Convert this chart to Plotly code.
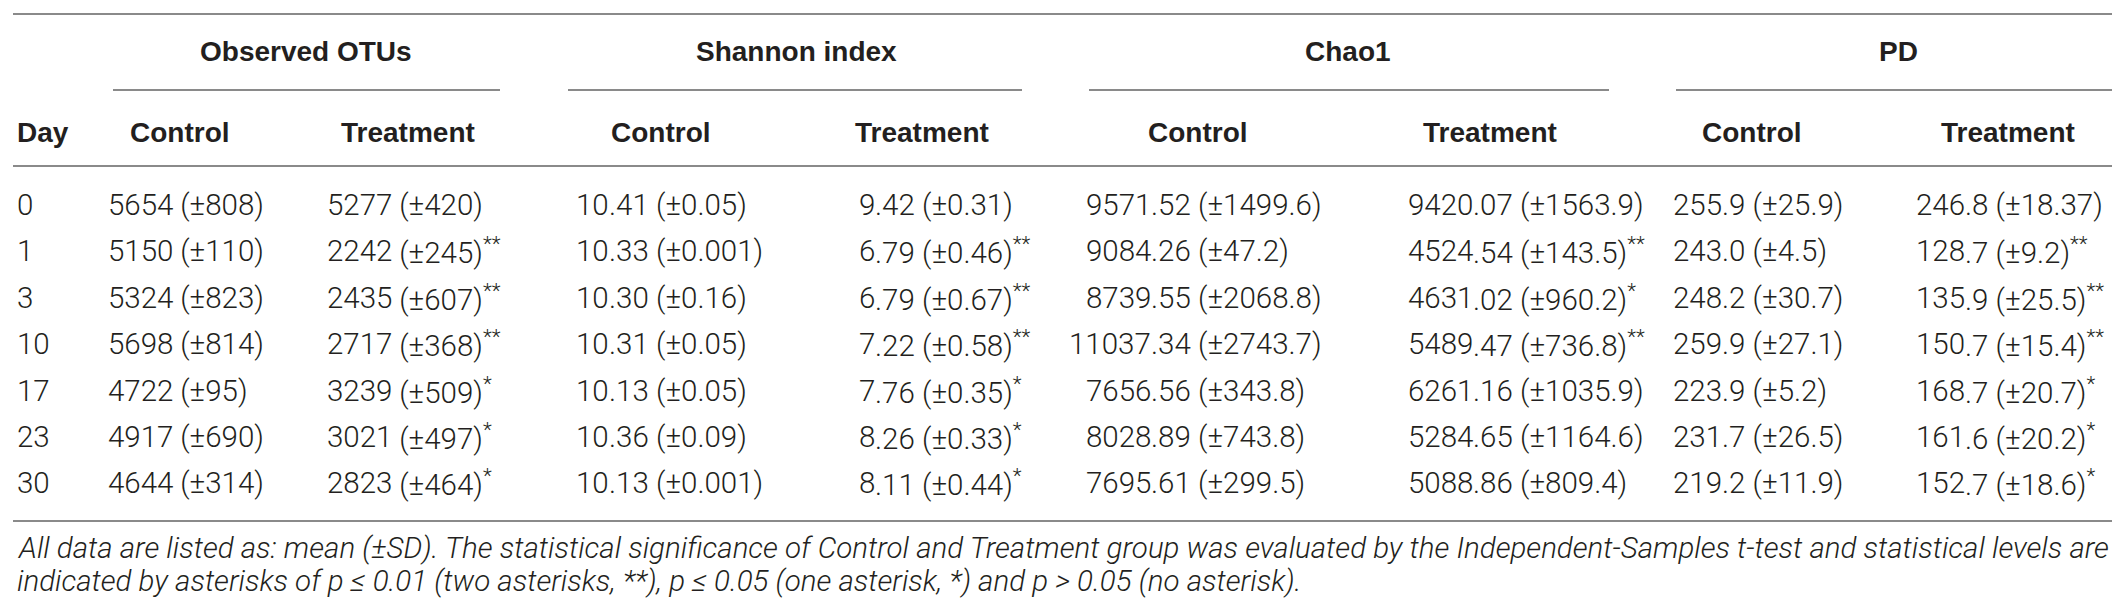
import plotly.graph_objects as go

# table values
days = ["0", "1", "3", "10", "17", "23", "30"]

otu_ctrl_mean = ["5654", "5150", "5324", "5698", "4722", "4917", "4644"]
otu_ctrl_sd = ["808", "110", "823", "814", "95", "690", "314"]
otu_ctrl_sig = ["", "", "", "", "", "", ""]
otu_trt_mean = ["5277", "2242", "2435", "2717", "3239", "3021", "2823"]
otu_trt_sd = ["420", "245", "607", "368", "509", "497", "464"]
otu_trt_sig = ["", "**", "**", "**", "*", "*", "*"]

sh_ctrl_mean = ["10.41", "10.33", "10.30", "10.31", "10.13", "10.36", "10.13"]
sh_ctrl_sd = ["0.05", "0.001", "0.16", "0.05", "0.05", "0.09", "0.001"]
sh_ctrl_sig = ["", "", "", "", "", "", ""]
sh_trt_mean = ["9.42", "6.79", "6.79", "7.22", "7.76", "8.26", "8.11"]
sh_trt_sd = ["0.31", "0.46", "0.67", "0.58", "0.35", "0.33", "0.44"]
sh_trt_sig = ["", "**", "**", "**", "*", "*", "*"]

chao_ctrl_mean = ["9571.52", "9084.26", "8739.55", "11037.34", "7656.56", "8028.89", "7695.61"]
chao_ctrl_sd = ["1499.6", "47.2", "2068.8", "2743.7", "343.8", "743.8", "299.5"]
chao_ctrl_sig = ["", "", "", "", "", "", ""]
chao_trt_mean = ["9420.07", "4524.54", "4631.02", "5489.47", "6261.16", "5284.65", "5088.86"]
chao_trt_sd = ["1563.9", "143.5", "960.2", "736.8", "1035.9", "1164.6", "809.4"]
chao_trt_sig = ["", "**", "*", "**", "", "", ""]

pd_ctrl_mean = ["255.9", "243.0", "248.2", "259.9", "223.9", "231.7", "219.2"]
pd_ctrl_sd = ["25.9", "4.5", "30.7", "27.1", "5.2", "26.5", "11.9"]
pd_ctrl_sig = ["", "", "", "", "", "", ""]
pd_trt_mean = ["246.8", "128.7", "135.9", "150.7", "168.7", "161.6", "152.7"]
pd_trt_sd = ["18.37", "9.2", "25.5", "15.4", "20.7", "20.2", "18.6"]
pd_trt_sig = ["", "**", "**", "**", "*", "*", "*"]

groups = ["Observed OTUs", "Shannon index", "Chao1", "PD"]
subheads = ["Control", "Treatment"]

footnote = [
    "All data are listed as: mean (±SD). The statistical significance of Control and Treatment group "
    "was evaluated by the Independent-Samples t-test and statistical levels are",
    "indicated by asterisks of p ≤ 0.01 (two asterisks, **), p ≤ 0.05 (one asterisk, *) "
    "and p > 0.05 (no asterisk).",
]

# layout (pixels)
W, H = 2120, 599
TXT = "#231f20"
RULE = "#8a8a8a"
HEAD_FONT = dict(family="Liberation Sans", size=28, color=TXT, weight="bold")
CELL_FONT = dict(family="Roboto", size=29.5, color=TXT, weight=300)
NOTE_FONT = dict(family="Roboto", size=29.5, color=TXT, weight=300, style="italic")

y_top, y_group, y_under, y_sub, y_head = 6, 43, 82, 124, 158
y_row0, row_h = 197, 46.4
y_bottom = 513
y_notes = [540, 573]

group_x = [298, 788, 1340, 1890]
group_span = [(105, 492), (560, 1014), (1081, 1601), (1668, 2114)]
sub_x = [172, 400, 653, 914, 1190, 1482, 1744, 2000]
# x where the integer part of each column ends (decimal alignment)
split_x = [165, 384, 601, 867, 1143, 1465, 1714, 1957]

columns = [
    (otu_ctrl_mean, otu_ctrl_sd, otu_ctrl_sig),
    (otu_trt_mean, otu_trt_sd, otu_trt_sig),
    (sh_ctrl_mean, sh_ctrl_sd, sh_ctrl_sig),
    (sh_trt_mean, sh_trt_sd, sh_trt_sig),
    (chao_ctrl_mean, chao_ctrl_sd, chao_ctrl_sig),
    (chao_trt_mean, chao_trt_sd, chao_trt_sig),
    (pd_ctrl_mean, pd_ctrl_sd, pd_ctrl_sig),
    (pd_trt_mean, pd_trt_sd, pd_trt_sig),
]

fig = go.Figure()
ann = []


def txt(x, y, s, font, anchor="center"):
    ann.append(dict(x=x, y=y, text=s, showarrow=False, xref="x", yref="y",
                    xanchor=anchor, yanchor="middle", font=font,
                    borderpad=0, borderwidth=0))


# header
for g, gx in zip(groups, group_x):
    txt(gx, y_group, g, HEAD_FONT)
txt(9, y_sub, "Day", HEAD_FONT, "left")
for i, sx in enumerate(sub_x):
    txt(sx, y_sub, subheads[i % 2], HEAD_FONT)

# body
for r, d in enumerate(days):
    y = y_row0 + r * row_h
    txt(9, y, d, CELL_FONT, "left")
    for (means, sds, sigs), bx in zip(columns, split_x):
        m = means[r]
        whole = m.split(".")[0]
        rest = m[len(whole):] + " (±" + sds[r] + ")"
        if sigs[r]:
            rest += "<sup>" + sigs[r] + "</sup>"
        txt(bx, y, whole, CELL_FONT, "right")
        txt(bx, y, rest, CELL_FONT, "left")

for line, ny in zip(footnote, y_notes):
    txt(9, ny, line, NOTE_FONT, "left")

# rules
shapes = []
for yy in (y_top, y_head, y_bottom):
    shapes.append(dict(type="line", xref="x", yref="y", x0=5, x1=2115, y0=yy, y1=yy,
                       line=dict(color=RULE, width=2)))
for x0, x1 in group_span:
    shapes.append(dict(type="line", xref="x", yref="y", x0=x0, x1=x1, y0=y_under, y1=y_under,
                       line=dict(color=RULE, width=2)))

fig.update_layout(
    width=W, height=H,
    margin=dict(l=0, r=0, t=0, b=0),
    paper_bgcolor="white", plot_bgcolor="white",
    xaxis=dict(range=[0, W], visible=False, fixedrange=True),
    yaxis=dict(range=[H, 0], visible=False, fixedrange=True),
    annotations=ann, shapes=shapes,
    showlegend=False,
)

fig.write_html("out.html")
